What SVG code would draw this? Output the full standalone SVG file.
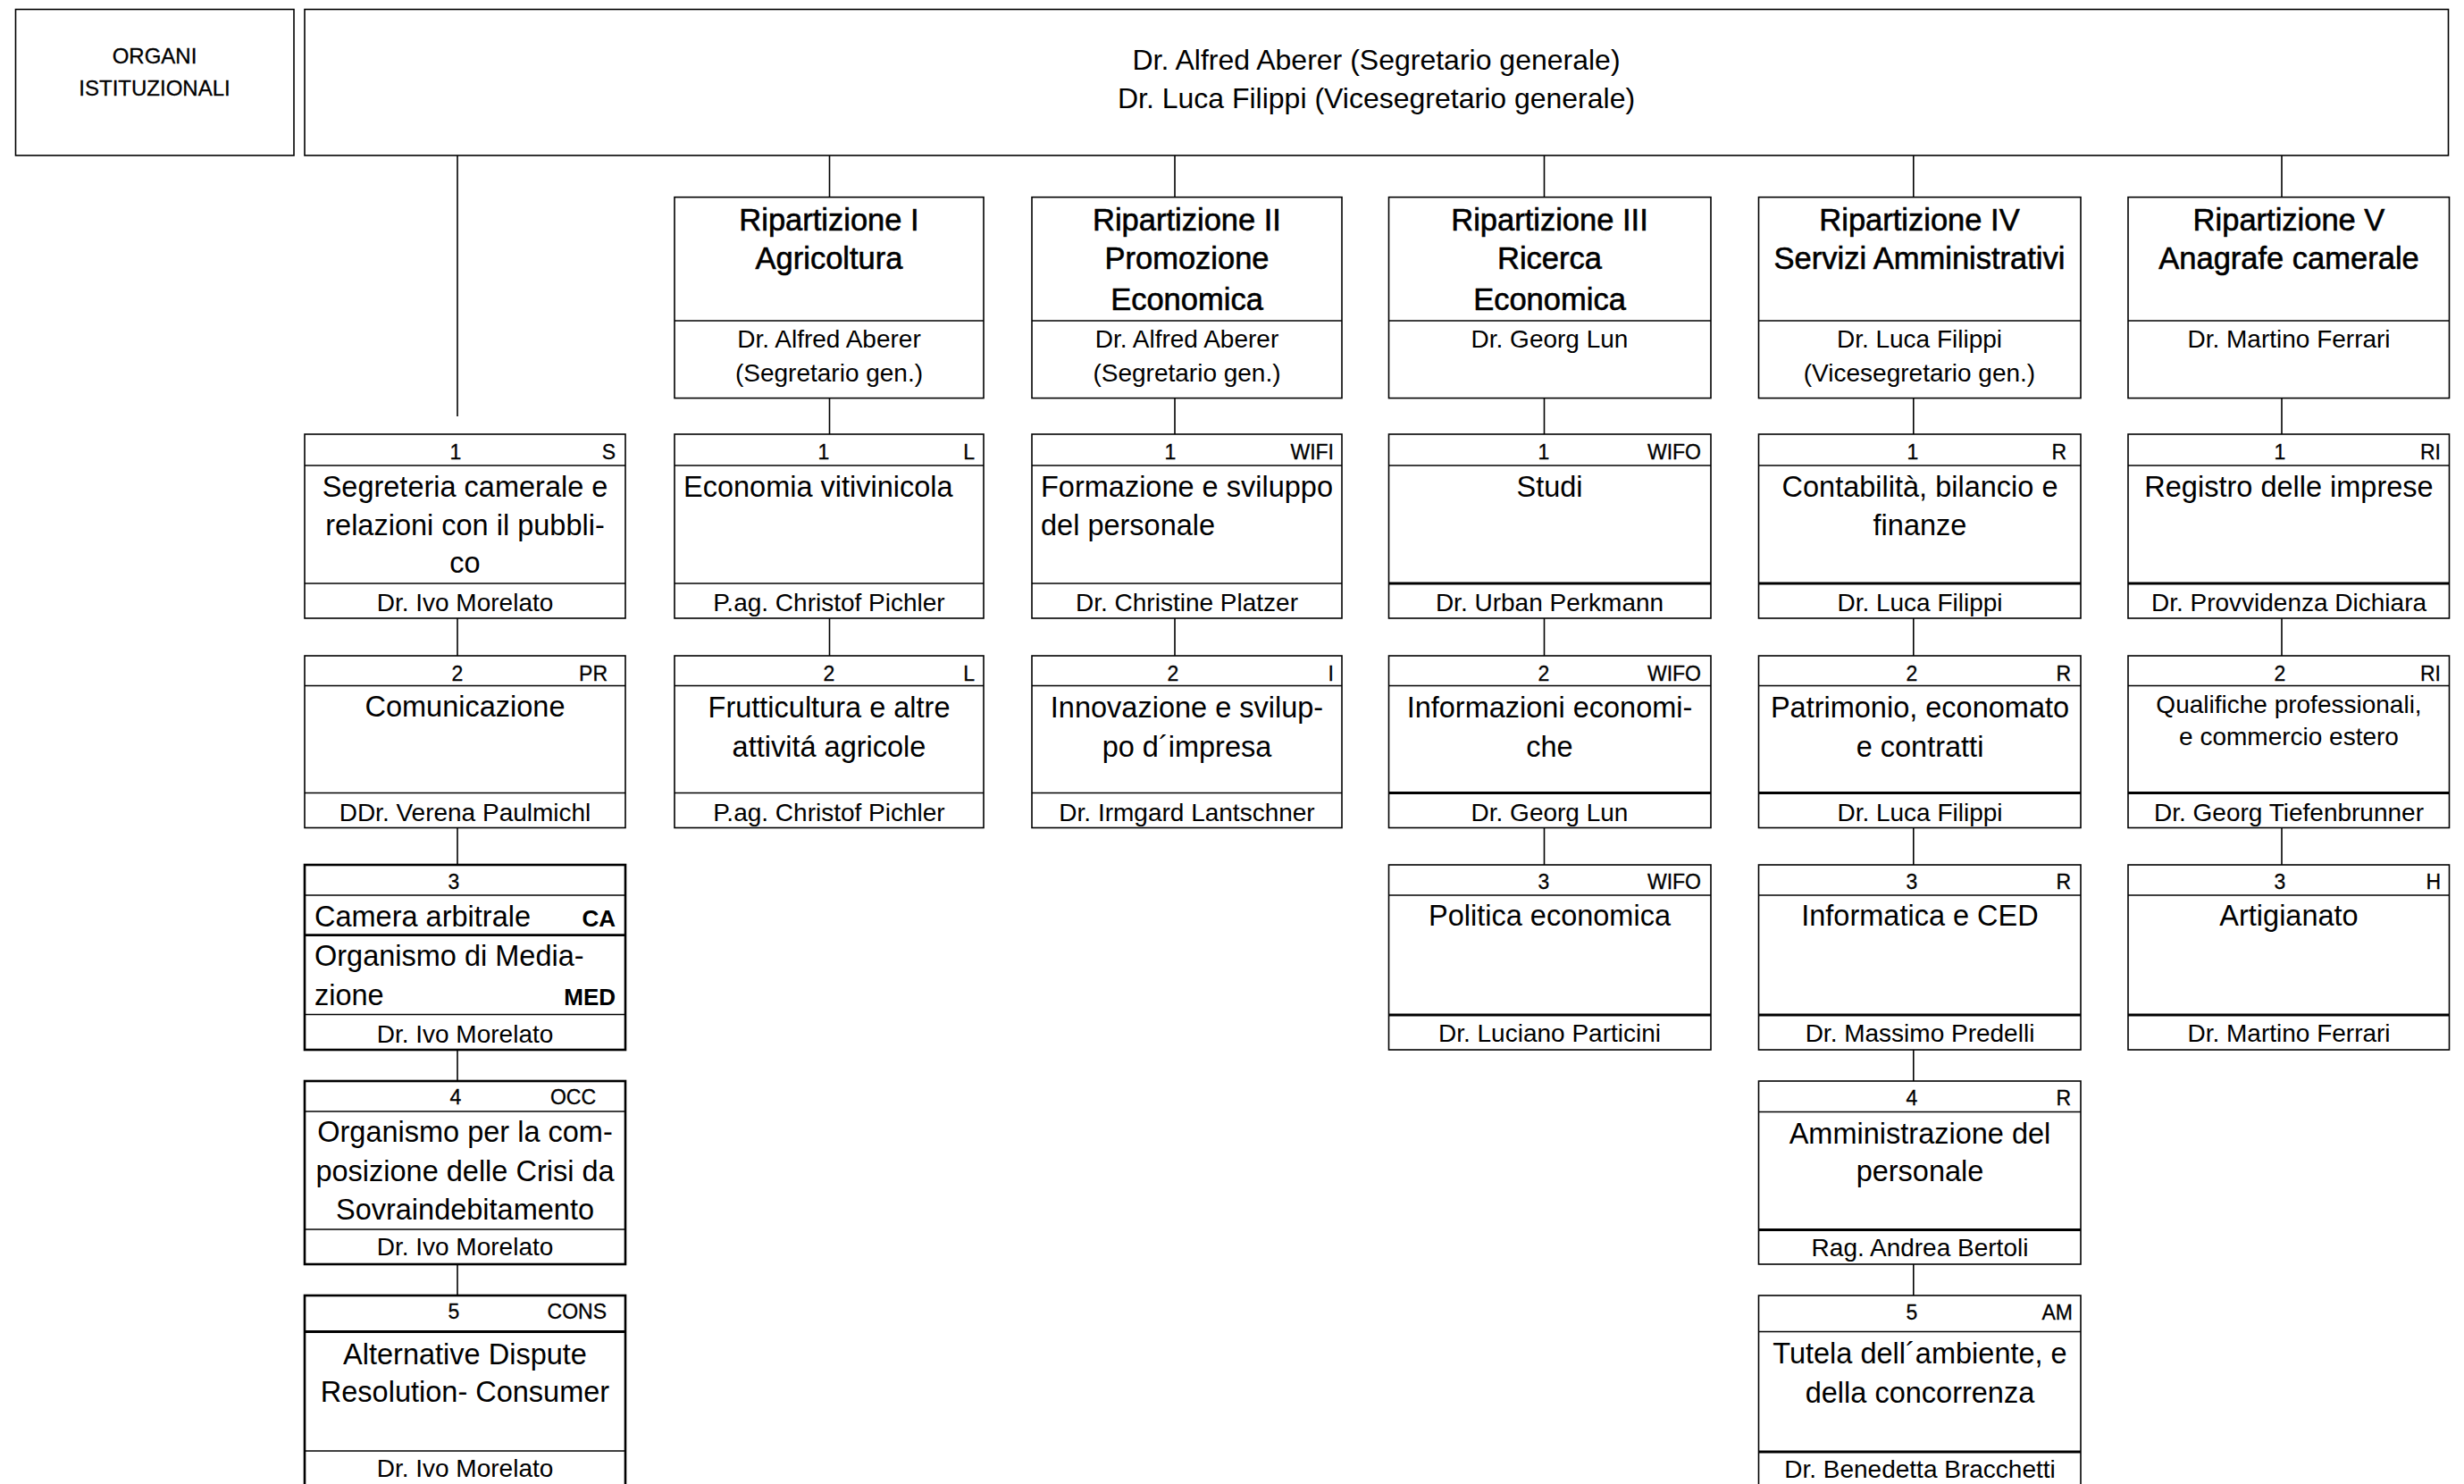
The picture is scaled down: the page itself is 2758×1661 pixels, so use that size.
<svg xmlns="http://www.w3.org/2000/svg" width="2758" height="1661" viewBox="0 0 2758 1661">
<style>
rect{fill:#fff;stroke:#000;stroke-width:1.6}
rect.k{stroke-width:2.6}
line{stroke:#000;stroke-width:1.6}
line.k{stroke-width:2.8}
text{font-family:"Liberation Sans",Arial,sans-serif;fill:#000}
.top{font-size:32px;text-anchor:middle}
.org{font-size:24px;text-anchor:middle;stroke:#000;stroke-width:0.3}
.ti{font-size:34.5px;text-anchor:middle;stroke:#000;stroke-width:0.6}
.nm{font-size:28px;text-anchor:middle}
.b{font-size:32.5px;text-anchor:middle}
.bl{font-size:32.5px}
.bs{font-size:28px;text-anchor:middle}
.h{font-size:23px;text-anchor:middle;stroke:#000;stroke-width:0.3}
.c{font-size:23px;text-anchor:end;stroke:#000;stroke-width:0.3}
.cb{font-size:26px;text-anchor:end;font-weight:bold}
</style>

<g id="connectors">
<line x1="512" y1="174" x2="512" y2="466"/>
<line x1="928.5" y1="174" x2="928.5" y2="220.7"/>
<line x1="1315" y1="174" x2="1315" y2="220.7"/>
<line x1="1728.5" y1="174" x2="1728.5" y2="220.7"/>
<line x1="2141.8" y1="174" x2="2141.8" y2="220.7"/>
<line x1="2554" y1="174" x2="2554" y2="220.7"/>
<line x1="928.5" y1="445.6" x2="928.5" y2="486"/>
<line x1="1315" y1="445.6" x2="1315" y2="486"/>
<line x1="1728.5" y1="445.6" x2="1728.5" y2="486"/>
<line x1="2141.8" y1="445.6" x2="2141.8" y2="486"/>
<line x1="2554" y1="445.6" x2="2554" y2="486"/>
<line x1="512" y1="692" x2="512" y2="734"/>
<line x1="512" y1="926.5" x2="512" y2="968"/>
<line x1="512" y1="1175" x2="512" y2="1210"/>
<line x1="512" y1="1415" x2="512" y2="1450"/>
<line x1="928.5" y1="692" x2="928.5" y2="734"/>
<line x1="1315" y1="692" x2="1315" y2="734"/>
<line x1="1728.5" y1="692" x2="1728.5" y2="734"/>
<line x1="1728.5" y1="926.5" x2="1728.5" y2="968"/>
<line x1="2141.8" y1="692" x2="2141.8" y2="734"/>
<line x1="2141.8" y1="926.5" x2="2141.8" y2="968"/>
<line x1="2141.8" y1="1175" x2="2141.8" y2="1210"/>
<line x1="2141.8" y1="1415" x2="2141.8" y2="1450"/>
<line x1="2554" y1="692" x2="2554" y2="734"/>
<line x1="2554" y1="926.5" x2="2554" y2="968"/>
</g>

<g id="organi">
<rect x="17.5" y="10.5" width="311.5" height="163.5"/>
<text class="org" x="173" y="71">ORGANI</text>
<text class="org" x="173" y="107">ISTITUZIONALI</text>
</g>

<g id="segretario">
<rect x="341" y="10.5" width="2399.5" height="163.5"/>
<text class="top" x="1540.5" y="78">Dr. Alfred Aberer (Segretario generale)</text>
<text class="top" x="1540.5" y="121">Dr. Luca Filippi (Vicesegretario generale)</text>
</g>

<!-- Ripartizioni -->
<g id="rip1">
<rect x="755" y="220.7" width="346" height="224.9"/>
<line x1="755" y1="359" x2="1101" y2="359"/>
<text class="ti" x="928" y="257.6">Ripartizione I</text>
<text class="ti" x="928" y="301">Agricoltura</text>
<text class="nm" x="928" y="389">Dr. Alfred Aberer</text>
<text class="nm" x="928" y="427">(Segretario gen.)</text>
</g>
<g id="rip2">
<rect x="1155" y="220.7" width="347" height="224.9"/>
<line x1="1155" y1="359" x2="1502" y2="359"/>
<text class="ti" x="1328.5" y="257.6">Ripartizione II</text>
<text class="ti" x="1328.5" y="301">Promozione</text>
<text class="ti" x="1328.5" y="346.5">Economica</text>
<text class="nm" x="1328.5" y="389">Dr. Alfred Aberer</text>
<text class="nm" x="1328.5" y="427">(Segretario gen.)</text>
</g>
<g id="rip3">
<rect x="1554.5" y="220.7" width="360.5" height="224.9"/>
<line x1="1554.5" y1="359" x2="1915" y2="359"/>
<text class="ti" x="1734.5" y="257.6">Ripartizione III</text>
<text class="ti" x="1734.5" y="301">Ricerca</text>
<text class="ti" x="1734.5" y="346.5">Economica</text>
<text class="nm" x="1734.5" y="389">Dr. Georg Lun</text>
</g>
<g id="rip4">
<rect x="1968.5" y="220.7" width="360.5" height="224.9"/>
<line x1="1968.5" y1="359" x2="2329" y2="359"/>
<text class="ti" x="2148.5" y="257.6">Ripartizione IV</text>
<text class="ti" x="2148.5" y="301">Servizi Amministrativi</text>
<text class="nm" x="2148.5" y="389">Dr. Luca Filippi</text>
<text class="nm" x="2148.5" y="427">(Vicesegretario gen.)</text>
</g>
<g id="rip5">
<rect x="2382" y="220.7" width="359.5" height="224.9"/>
<line x1="2382" y1="359" x2="2741.5" y2="359"/>
<text class="ti" x="2562" y="257.6">Ripartizione V</text>
<text class="ti" x="2562" y="301">Anagrafe camerale</text>
<text class="nm" x="2562" y="389">Dr. Martino Ferrari</text>
</g>

<!-- Column 0 -->
<g id="c0r1">
<rect x="341" y="486" width="359" height="206"/>
<line x1="341" y1="521" x2="700" y2="521"/>
<line x1="341" y1="653" x2="700" y2="653"/>
<text class="h" x="510" y="514">1</text>
<text class="c" x="689" y="514">S</text>
<text class="b" x="520.5" y="556">Segreteria camerale e</text>
<text class="b" x="520.5" y="599">relazioni con il pubbli-</text>
<text class="b" x="520.5" y="641">co</text>
<text class="nm" x="520.5" y="684">Dr. Ivo Morelato</text>
</g>
<g id="c0r2">
<rect x="341" y="734" width="359" height="192.5"/>
<line x1="341" y1="767.5" x2="700" y2="767.5"/>
<line x1="341" y1="887.5" x2="700" y2="887.5"/>
<text class="h" x="512" y="761.5">2</text>
<text class="c" x="680" y="761.5">PR</text>
<text class="b" x="520.5" y="802">Comunicazione</text>
<text class="nm" x="520.5" y="919">DDr. Verena Paulmichl</text>
</g>
<g id="c0r3">
<rect class="k" x="341" y="968" width="359" height="207"/>
<line x1="341" y1="1002" x2="700" y2="1002"/>
<line class="k" x1="341" y1="1046.7" x2="700" y2="1046.7"/>
<line x1="341" y1="1135.5" x2="700" y2="1135.5"/>
<text class="h" x="508" y="995">3</text>
<text class="bl" x="352" y="1036.5">Camera arbitrale</text>
<text class="cb" x="689" y="1036.5">CA</text>
<text class="bl" x="352" y="1081">Organismo di Media-</text>
<text class="bl" x="352" y="1125">zione</text>
<text class="cb" x="689" y="1125">MED</text>
<text class="nm" x="520.5" y="1167">Dr. Ivo Morelato</text>
</g>
<g id="c0r4">
<rect class="k" x="341" y="1210" width="359" height="205"/>
<line x1="341" y1="1244" x2="700" y2="1244"/>
<line x1="341" y1="1376" x2="700" y2="1376"/>
<text class="h" x="510" y="1236">4</text>
<text class="c" x="667" y="1236">OCC</text>
<text class="b" x="520.5" y="1278">Organismo per la com-</text>
<text class="b" x="520.5" y="1322">posizione delle Crisi da</text>
<text class="b" x="520.5" y="1365">Sovraindebitamento</text>
<text class="nm" x="520.5" y="1405">Dr. Ivo Morelato</text>
</g>
<g id="c0r5">
<rect class="k" x="341" y="1450" width="359" height="220"/>
<line class="k" x1="341" y1="1490.5" x2="700" y2="1490.5"/>
<line x1="341" y1="1624" x2="700" y2="1624"/>
<text class="h" x="508" y="1476">5</text>
<text class="c" x="679" y="1476">CONS</text>
<text class="b" x="520.5" y="1527">Alternative Dispute</text>
<text class="b" x="520.5" y="1569">Resolution- Consumer</text>
<text class="nm" x="520.5" y="1653">Dr. Ivo Morelato</text>
</g>

<!-- Column 1 -->
<g id="c1r1">
<rect x="755" y="486" width="346" height="206"/>
<line x1="755" y1="521" x2="1101" y2="521"/>
<line x1="755" y1="653" x2="1101" y2="653"/>
<text class="h" x="922" y="514">1</text>
<text class="c" x="1091" y="514">L</text>
<text class="bl" x="765" y="556">Economia vitivinicola</text>
<text class="nm" x="928" y="684">P.ag. Christof Pichler</text>
</g>
<g id="c1r2">
<rect x="755" y="734" width="346" height="192.5"/>
<line x1="755" y1="767.5" x2="1101" y2="767.5"/>
<line x1="755" y1="887.5" x2="1101" y2="887.5"/>
<text class="h" x="928" y="761.5">2</text>
<text class="c" x="1091" y="761.5">L</text>
<text class="b" x="928" y="803">Frutticultura e altre</text>
<text class="b" x="928" y="846.5">attivitá agricole</text>
<text class="nm" x="928" y="919">P.ag. Christof Pichler</text>
</g>

<!-- Column 2 -->
<g id="c2r1">
<rect x="1155" y="486" width="347" height="206"/>
<line x1="1155" y1="521" x2="1502" y2="521"/>
<line x1="1155" y1="653" x2="1502" y2="653"/>
<text class="h" x="1310" y="514">1</text>
<text class="c" x="1493" y="514">WIFI</text>
<text class="bl" x="1165" y="556">Formazione e sviluppo</text>
<text class="bl" x="1165" y="599">del personale</text>
<text class="nm" x="1328.5" y="684">Dr. Christine Platzer</text>
</g>
<g id="c2r2">
<rect x="1155" y="734" width="347" height="192.5"/>
<line x1="1155" y1="767.5" x2="1502" y2="767.5"/>
<line x1="1155" y1="887.5" x2="1502" y2="887.5"/>
<text class="h" x="1313" y="761.5">2</text>
<text class="c" x="1493" y="761.5">I</text>
<text class="b" x="1328.5" y="803">Innovazione e svilup-</text>
<text class="b" x="1328.5" y="846.5">po d´impresa</text>
<text class="nm" x="1328.5" y="919">Dr. Irmgard Lantschner</text>
</g>

<!-- Column 3 -->
<g id="c3r1">
<rect x="1554.5" y="486" width="360.5" height="206"/>
<line x1="1554.5" y1="521" x2="1915" y2="521"/>
<line class="k" x1="1554.5" y1="653" x2="1915" y2="653"/>
<text class="h" x="1728" y="514">1</text>
<text class="c" x="1904" y="514">WIFO</text>
<text class="b" x="1734.5" y="556">Studi</text>
<text class="nm" x="1734.5" y="684">Dr. Urban Perkmann</text>
</g>
<g id="c3r2">
<rect x="1554.5" y="734" width="360.5" height="192.5"/>
<line x1="1554.5" y1="767.5" x2="1915" y2="767.5"/>
<line class="k" x1="1554.5" y1="887.5" x2="1915" y2="887.5"/>
<text class="h" x="1728" y="761.5">2</text>
<text class="c" x="1904" y="761.5">WIFO</text>
<text class="b" x="1734.5" y="803">Informazioni economi-</text>
<text class="b" x="1734.5" y="846.5">che</text>
<text class="nm" x="1734.5" y="919">Dr. Georg Lun</text>
</g>
<g id="c3r3">
<rect x="1554.5" y="968" width="360.5" height="207"/>
<line x1="1554.5" y1="1002" x2="1915" y2="1002"/>
<line class="k" x1="1554.5" y1="1136" x2="1915" y2="1136"/>
<text class="h" x="1728" y="995">3</text>
<text class="c" x="1904" y="995">WIFO</text>
<text class="b" x="1734.5" y="1036">Politica economica</text>
<text class="nm" x="1734.5" y="1166">Dr. Luciano Particini</text>
</g>

<!-- Column 4 -->
<g id="c4r1">
<rect x="1968.5" y="486" width="360.5" height="206"/>
<line x1="1968.5" y1="521" x2="2329" y2="521"/>
<line class="k" x1="1968.5" y1="653" x2="2329" y2="653"/>
<text class="h" x="2141" y="514">1</text>
<text class="c" x="2313" y="514">R</text>
<text class="b" x="2149" y="556">Contabilità, bilancio e</text>
<text class="b" x="2149" y="599">finanze</text>
<text class="nm" x="2149" y="684">Dr. Luca Filippi</text>
</g>
<g id="c4r2">
<rect x="1968.5" y="734" width="360.5" height="192.5"/>
<line x1="1968.5" y1="767.5" x2="2329" y2="767.5"/>
<line class="k" x1="1968.5" y1="887.5" x2="2329" y2="887.5"/>
<text class="h" x="2140" y="761.5">2</text>
<text class="c" x="2318" y="761.5">R</text>
<text class="b" x="2149" y="803">Patrimonio, economato</text>
<text class="b" x="2149" y="846.5">e contratti</text>
<text class="nm" x="2149" y="919">Dr. Luca Filippi</text>
</g>
<g id="c4r3">
<rect x="1968.5" y="968" width="360.5" height="207"/>
<line x1="1968.5" y1="1002" x2="2329" y2="1002"/>
<line class="k" x1="1968.5" y1="1136" x2="2329" y2="1136"/>
<text class="h" x="2140" y="995">3</text>
<text class="c" x="2318" y="995">R</text>
<text class="b" x="2149" y="1036">Informatica e CED</text>
<text class="nm" x="2149" y="1166">Dr. Massimo Predelli</text>
</g>
<g id="c4r4">
<rect x="1968.5" y="1210" width="360.5" height="205"/>
<line x1="1968.5" y1="1244.5" x2="2329" y2="1244.5"/>
<line class="k" x1="1968.5" y1="1376.5" x2="2329" y2="1376.5"/>
<text class="h" x="2140" y="1236.5">4</text>
<text class="c" x="2318" y="1236.5">R</text>
<text class="b" x="2149" y="1279.5">Amministrazione del</text>
<text class="b" x="2149" y="1322">personale</text>
<text class="nm" x="2149" y="1406">Rag. Andrea Bertoli</text>
</g>
<g id="c4r5">
<rect x="1968.5" y="1450" width="360.5" height="220"/>
<line x1="1968.5" y1="1490.5" x2="2329" y2="1490.5"/>
<line class="k" x1="1968.5" y1="1625" x2="2329" y2="1625"/>
<text class="h" x="2140" y="1476.5">5</text>
<text class="c" x="2320" y="1476.5">AM</text>
<text class="b" x="2149" y="1526">Tutela dell´ambiente, e</text>
<text class="b" x="2149" y="1570">della concorrenza</text>
<text class="nm" x="2149" y="1654">Dr. Benedetta Bracchetti</text>
</g>

<!-- Column 5 -->
<g id="c5r1">
<rect x="2382" y="486" width="359.5" height="206"/>
<line x1="2382" y1="521" x2="2741.5" y2="521"/>
<line class="k" x1="2382" y1="653" x2="2741.5" y2="653"/>
<text class="h" x="2552" y="514">1</text>
<text class="c" x="2732" y="514">RI</text>
<text class="b" x="2562" y="556">Registro delle imprese</text>
<text class="nm" x="2562" y="684">Dr. Provvidenza Dichiara</text>
</g>
<g id="c5r2">
<rect x="2382" y="734" width="359.5" height="192.5"/>
<line x1="2382" y1="767.5" x2="2741.5" y2="767.5"/>
<line class="k" x1="2382" y1="887.5" x2="2741.5" y2="887.5"/>
<text class="h" x="2552" y="761.5">2</text>
<text class="c" x="2732" y="761.5">RI</text>
<text class="bs" x="2562" y="798">Qualifiche professionali,</text>
<text class="bs" x="2562" y="834">e commercio estero</text>
<text class="nm" x="2562" y="919">Dr. Georg Tiefenbrunner</text>
</g>
<g id="c5r3">
<rect x="2382" y="968" width="359.5" height="207"/>
<line x1="2382" y1="1002" x2="2741.5" y2="1002"/>
<line class="k" x1="2382" y1="1136" x2="2741.5" y2="1136"/>
<text class="h" x="2552" y="995">3</text>
<text class="c" x="2732" y="995">H</text>
<text class="b" x="2562" y="1036">Artigianato</text>
<text class="nm" x="2562" y="1166">Dr. Martino Ferrari</text>
</g>
</svg>
